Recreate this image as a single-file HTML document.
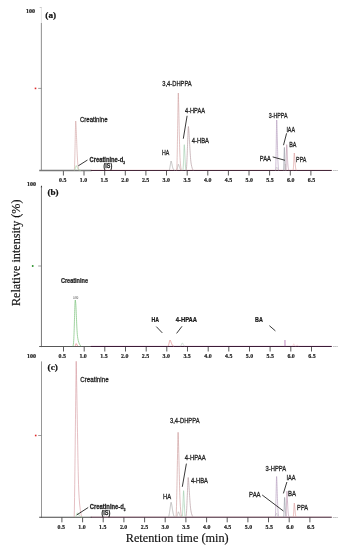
<!DOCTYPE html>
<html><head><meta charset="utf-8"><title>Chromatograms</title>
<style>
html,body{margin:0;padding:0;background:#fff}
svg{display:block;filter:blur(0.3px)}
text{fill:#222}
.tk{font:bold 6.7px "Liberation Serif",serif;text-anchor:middle;fill:#222;stroke:#222;stroke-width:0.2px}
.tm{font:2.4px "Liberation Sans",sans-serif;fill:#777}
.pl{font:bold 8.2px "Liberation Serif",serif;fill:#111;stroke:#111;stroke-width:0.2px}
.lb{font:7.7px "Liberation Sans",sans-serif;fill:#222;stroke:#222;stroke-width:0.3px}
.lbb{font:bold 7.8px "Liberation Sans",sans-serif;fill:#1c1c1c;stroke:#1c1c1c;stroke-width:0.28px}
.lbs{font:bold 6.6px "Liberation Sans",sans-serif;fill:#1c1c1c;stroke:#1c1c1c;stroke-width:0.25px}
.bb{font:bold 6.3px "Liberation Sans",sans-serif;fill:#1a1a1a;stroke:#1a1a1a;stroke-width:0.22px}
.ax{font:13.4px "Liberation Serif",serif;fill:#111;stroke:#111;stroke-width:0.18px}
</style></head><body>
<svg width="350" height="550" viewBox="0 0 350 550">
<rect width="350" height="550" fill="#fff"/>
<line x1="41.4" y1="23" x2="41.4" y2="171.1" stroke="#989898" stroke-width="1.1"/>
<line x1="63.4" y1="170.5" x2="63.4" y2="175.5" stroke="#484848" stroke-width="0.9"/>
<line x1="84.0" y1="170.5" x2="84.0" y2="175.5" stroke="#484848" stroke-width="0.9"/>
<line x1="104.7" y1="170.5" x2="104.7" y2="175.5" stroke="#484848" stroke-width="0.9"/>
<line x1="125.3" y1="170.5" x2="125.3" y2="175.5" stroke="#484848" stroke-width="0.9"/>
<line x1="145.9" y1="170.5" x2="145.9" y2="175.5" stroke="#484848" stroke-width="0.9"/>
<line x1="166.5" y1="170.5" x2="166.5" y2="175.5" stroke="#484848" stroke-width="0.9"/>
<line x1="187.2" y1="170.5" x2="187.2" y2="175.5" stroke="#484848" stroke-width="0.9"/>
<line x1="207.8" y1="170.5" x2="207.8" y2="175.5" stroke="#484848" stroke-width="0.9"/>
<line x1="228.4" y1="170.5" x2="228.4" y2="175.5" stroke="#484848" stroke-width="0.9"/>
<line x1="249.0" y1="170.5" x2="249.0" y2="175.5" stroke="#484848" stroke-width="0.9"/>
<line x1="269.6" y1="170.5" x2="269.6" y2="175.5" stroke="#484848" stroke-width="0.9"/>
<line x1="290.3" y1="170.5" x2="290.3" y2="175.5" stroke="#484848" stroke-width="0.9"/>
<line x1="310.9" y1="170.5" x2="310.9" y2="175.5" stroke="#484848" stroke-width="0.9"/>
<line x1="39.2" y1="170.5" x2="91.5" y2="170.5" stroke="#777" stroke-width="1.3"/>
<line x1="90.8" y1="169.75" x2="331.8" y2="169.75" stroke="#e0b0b8" stroke-width="0.3"/>
<line x1="90.8" y1="170.5" x2="331.8" y2="170.5" stroke="#46283a" stroke-width="1.05"/>
<text transform="translate(62.7 182.3) scale(0.88 1)" class="tk">0.5</text>
<text transform="translate(83.4 182.3) scale(0.88 1)" class="tk">1.0</text>
<text transform="translate(104.2 182.3) scale(0.88 1)" class="tk">1.5</text>
<text transform="translate(124.9 182.3) scale(0.88 1)" class="tk">2.0</text>
<text transform="translate(145.6 182.3) scale(0.88 1)" class="tk">2.5</text>
<text transform="translate(166.3 182.3) scale(0.88 1)" class="tk">3.0</text>
<text transform="translate(187.1 182.3) scale(0.88 1)" class="tk">3.5</text>
<text transform="translate(207.8 182.3) scale(0.88 1)" class="tk">4.0</text>
<text transform="translate(228.5 182.3) scale(0.88 1)" class="tk">4.5</text>
<text transform="translate(249.2 182.3) scale(0.88 1)" class="tk">5.0</text>
<text transform="translate(269.9 182.3) scale(0.88 1)" class="tk">5.5</text>
<text transform="translate(290.7 182.3) scale(0.88 1)" class="tk">6.0</text>
<text transform="translate(311.4 182.3) scale(0.88 1)" class="tk">6.5</text>
<text transform="translate(30.4 12.5) scale(0.9 1)" class="tk">100</text>
<rect x="34.7" y="87.6" width="1.6" height="1.6" fill="#e02828"/>
<line x1="38.2" y1="88.4" x2="41.4" y2="88.4" stroke="#777" stroke-width="0.7"/>
<text x="332.8" y="171.4" class="tm">Time</text>
<line x1="41.4" y1="7" x2="41.4" y2="23" stroke="#cfcfcf" stroke-width="0.6"/>
<text x="39.6" y="7.8" class="tm">%</text>
<text x="45.3" y="18.2" class="pl" textLength="10.8" lengthAdjust="spacingAndGlyphs">(a)</text>
<path d="M74.30 170.30 L74.47 168.25 L74.56 166.19 L74.63 164.14 L74.70 162.08 L74.75 160.03 L74.81 157.98 L74.86 155.92 L74.90 153.87 L74.95 151.81 L74.99 149.76 L75.04 147.70 L75.08 145.65 L75.13 143.60 L75.17 141.54 L75.21 139.49 L75.25 137.43 L75.30 135.38 L75.34 133.32 L75.39 131.27 L75.43 129.22 L75.48 127.16 L75.53 125.11 L75.59 123.05 L75.70 121.00 L75.90 123.05 L76.01 125.11 L76.11 127.16 L76.20 129.22 L76.28 131.27 L76.36 133.32 L76.45 135.38 L76.53 137.43 L76.61 139.49 L76.69 141.54 L76.77 143.60 L76.85 145.65 L76.93 147.70 L77.01 149.76 L77.10 151.81 L77.19 153.87 L77.29 155.92 L77.40 157.98 L77.52 160.03 L77.66 162.08 L77.84 164.14 L78.07 166.19 L78.38 168.25 L78.90 170.30" fill="none" stroke="#d8b0b0" stroke-width="0.75" stroke-linejoin="round"/>
<path d="M74.40 170.30 L74.62 170.10 L74.74 169.91 L74.83 169.71 L74.91 169.52 L74.98 169.32 L75.05 169.12 L75.11 168.93 L75.18 168.73 L75.24 168.54 L75.29 168.34 L75.35 168.15 L75.41 167.95 L75.46 167.75 L75.52 167.56 L75.57 167.36 L75.63 167.17 L75.68 166.97 L75.74 166.78 L75.80 166.58 L75.86 166.38 L75.92 166.19 L75.99 165.99 L76.06 165.80 L76.20 165.60 L76.43 165.80 L76.56 165.99 L76.67 166.19 L76.77 166.38 L76.87 166.58 L76.97 166.78 L77.06 166.97 L77.15 167.17 L77.25 167.36 L77.34 167.56 L77.43 167.75 L77.52 167.95 L77.62 168.15 L77.72 168.34 L77.82 168.54 L77.93 168.73 L78.06 168.93 L78.20 169.12 L78.37 169.32 L78.59 169.52 L78.88 169.71 L79.27 169.91 L79.82 170.10 L80.70 170.30" fill="none" stroke="#a4d4a4" stroke-width="0.7" stroke-linejoin="round"/>
<path d="M169.10 170.30 L169.34 169.91 L169.47 169.53 L169.58 169.14 L169.67 168.75 L169.75 168.36 L169.82 167.98 L169.89 167.59 L169.96 167.20 L170.03 166.81 L170.09 166.43 L170.16 166.04 L170.22 165.65 L170.28 165.26 L170.34 164.88 L170.40 164.49 L170.46 164.10 L170.53 163.71 L170.59 163.32 L170.65 162.94 L170.72 162.55 L170.79 162.16 L170.86 161.78 L170.95 161.39 L171.10 161.00 L171.30 161.39 L171.41 161.78 L171.51 162.16 L171.60 162.55 L171.68 162.94 L171.76 163.32 L171.85 163.71 L171.93 164.10 L172.01 164.49 L172.09 164.88 L172.17 165.26 L172.25 165.65 L172.33 166.04 L172.41 166.43 L172.50 166.81 L172.59 167.20 L172.69 167.59 L172.81 167.98 L172.94 168.36 L173.09 168.75 L173.29 169.14 L173.55 169.53 L173.91 169.91 L174.50 170.30" fill="none" stroke="#a8a6a6" stroke-width="0.7" stroke-linejoin="round"/>
<path d="M176.60 170.30 L176.82 170.05 L176.94 169.79 L177.03 169.54 L177.11 169.28 L177.18 169.03 L177.25 168.78 L177.31 168.52 L177.38 168.27 L177.44 168.01 L177.49 167.76 L177.55 167.50 L177.61 167.25 L177.66 167.00 L177.72 166.74 L177.77 166.49 L177.83 166.23 L177.88 165.98 L177.94 165.72 L178.00 165.47 L178.06 165.22 L178.12 164.96 L178.19 164.71 L178.26 164.45 L178.40 164.20 L178.60 164.45 L178.71 164.71 L178.81 164.96 L178.90 165.22 L178.98 165.47 L179.06 165.72 L179.15 165.98 L179.23 166.23 L179.31 166.49 L179.39 166.74 L179.47 167.00 L179.55 167.25 L179.63 167.50 L179.71 167.76 L179.79 168.01 L179.88 168.27 L179.97 168.52 L180.06 168.78 L180.16 169.03 L180.26 169.28 L180.38 169.54 L180.52 169.79 L180.69 170.05 L181.00 170.30" fill="none" stroke="#a8a0a0" stroke-width="0.6" stroke-linejoin="round"/>
<path d="M176.70 170.30 L176.89 167.08 L177.00 163.86 L177.08 160.64 L177.15 157.42 L177.22 154.20 L177.28 150.98 L177.33 147.75 L177.39 144.53 L177.44 141.31 L177.49 138.09 L177.54 134.87 L177.59 131.65 L177.64 128.43 L177.69 125.21 L177.74 121.99 L177.79 118.77 L177.84 115.55 L177.89 112.33 L177.94 109.10 L178.00 105.88 L178.05 102.66 L178.11 99.44 L178.18 96.22 L178.30 93.00 L178.47 96.22 L178.56 99.44 L178.64 102.66 L178.72 105.88 L178.79 109.10 L178.86 112.33 L178.93 115.55 L179.00 118.77 L179.07 121.99 L179.13 125.21 L179.20 128.43 L179.27 131.65 L179.34 134.87 L179.41 138.09 L179.49 141.31 L179.57 144.53 L179.65 147.75 L179.75 150.98 L179.87 154.20 L180.01 157.42 L180.19 160.64 L180.42 163.86 L180.76 167.08 L181.30 170.30" fill="none" stroke="#cc9a9a" stroke-width="0.6" stroke-linejoin="round"/>
<path d="M182.90 170.30 L183.07 169.23 L183.16 168.17 L183.23 167.10 L183.30 166.03 L183.35 164.97 L183.41 163.90 L183.46 162.83 L183.50 161.77 L183.55 160.70 L183.59 159.63 L183.64 158.57 L183.68 157.50 L183.73 156.43 L183.77 155.37 L183.81 154.30 L183.85 153.23 L183.90 152.17 L183.94 151.10 L183.99 150.03 L184.03 148.97 L184.08 147.90 L184.13 146.83 L184.19 145.77 L184.30 144.70 L184.42 145.77 L184.49 146.83 L184.55 147.90 L184.60 148.97 L184.66 150.03 L184.71 151.10 L184.76 152.17 L184.81 153.23 L184.86 154.30 L184.91 155.37 L184.96 156.43 L185.01 157.50 L185.06 158.57 L185.11 159.63 L185.16 160.70 L185.21 161.77 L185.27 162.83 L185.32 163.90 L185.38 164.97 L185.45 166.03 L185.52 167.10 L185.60 168.17 L185.71 169.23 L185.90 170.30" fill="none" stroke="#a4ceb0" stroke-width="0.7" stroke-linejoin="round"/>
<path d="M186.20 170.30 L186.46 168.48 L186.61 166.65 L186.72 164.83 L186.82 163.00 L186.91 161.18 L186.99 159.35 L187.07 157.53 L187.15 155.70 L187.22 153.88 L187.29 152.05 L187.36 150.23 L187.43 148.40 L187.50 146.58 L187.57 144.75 L187.63 142.93 L187.70 141.10 L187.77 139.28 L187.84 137.45 L187.91 135.62 L187.98 133.80 L188.06 131.97 L188.14 130.15 L188.23 128.32 L188.40 126.50 L188.66 128.32 L188.80 130.15 L188.93 131.97 L189.05 133.80 L189.16 135.62 L189.27 137.45 L189.38 139.28 L189.48 141.10 L189.59 142.93 L189.69 144.75 L189.79 146.57 L189.90 148.40 L190.01 150.22 L190.12 152.05 L190.24 153.88 L190.36 155.70 L190.50 157.53 L190.65 159.35 L190.84 161.18 L191.06 163.00 L191.36 164.83 L191.75 166.65 L192.31 168.48 L193.20 170.30" fill="none" stroke="#b89ea4" stroke-width="0.7" stroke-linejoin="round"/>
<path d="M275.40 170.30 L275.57 170.16 L275.66 170.03 L275.73 169.89 L275.80 169.75 L275.85 169.61 L275.91 169.48 L275.96 169.34 L276.00 169.20 L276.05 169.06 L276.09 168.93 L276.14 168.79 L276.18 168.65 L276.23 168.51 L276.27 168.38 L276.31 168.24 L276.35 168.10 L276.40 167.96 L276.44 167.82 L276.49 167.69 L276.53 167.55 L276.58 167.41 L276.63 167.28 L276.69 167.14 L276.80 167.00 L276.93 167.14 L277.00 167.28 L277.07 167.41 L277.12 167.55 L277.18 167.69 L277.23 167.82 L277.29 167.96 L277.34 168.10 L277.39 168.24 L277.44 168.38 L277.50 168.51 L277.55 168.65 L277.60 168.79 L277.66 168.93 L277.71 169.06 L277.77 169.20 L277.83 169.34 L277.89 169.48 L277.95 169.61 L278.02 169.75 L278.09 169.89 L278.18 170.03 L278.30 170.16 L278.50 170.30" fill="none" stroke="#b0b0b0" stroke-width="0.5" stroke-linejoin="round"/>
<path d="M275.60 170.30 L275.73 168.20 L275.81 166.11 L275.86 164.01 L275.91 161.92 L275.96 159.82 L276.00 157.73 L276.04 155.63 L276.07 153.53 L276.11 151.44 L276.15 149.34 L276.18 147.25 L276.21 145.15 L276.25 143.05 L276.28 140.96 L276.32 138.86 L276.35 136.77 L276.38 134.67 L276.42 132.57 L276.45 130.48 L276.49 128.38 L276.53 126.29 L276.57 124.19 L276.62 122.10 L276.70 120.00 L276.83 122.10 L276.90 124.19 L276.97 126.29 L277.02 128.38 L277.08 130.48 L277.13 132.57 L277.19 134.67 L277.24 136.77 L277.29 138.86 L277.34 140.96 L277.40 143.05 L277.45 145.15 L277.50 147.25 L277.56 149.34 L277.61 151.44 L277.67 153.53 L277.74 155.63 L277.80 157.73 L277.88 159.82 L277.97 161.92 L278.07 164.01 L278.21 166.11 L278.39 168.20 L278.70 170.30" fill="none" stroke="#b8a0c0" stroke-width="0.7" stroke-linejoin="round"/>
<path d="M283.50 170.30 L283.61 169.35 L283.67 168.40 L283.71 167.45 L283.75 166.50 L283.79 165.55 L283.82 164.60 L283.86 163.65 L283.89 162.70 L283.92 161.75 L283.95 160.80 L283.98 159.85 L284.00 158.90 L284.03 157.95 L284.06 157.00 L284.09 156.05 L284.11 155.10 L284.14 154.15 L284.17 153.20 L284.20 152.25 L284.23 151.30 L284.26 150.35 L284.29 149.40 L284.33 148.45 L284.40 147.50 L284.48 148.45 L284.53 149.40 L284.57 150.35 L284.61 151.30 L284.65 152.25 L284.68 153.20 L284.72 154.15 L284.75 155.10 L284.78 156.05 L284.82 157.00 L284.85 157.95 L284.89 158.90 L284.92 159.85 L284.95 160.80 L284.99 161.75 L285.03 162.70 L285.06 163.65 L285.10 164.60 L285.14 165.55 L285.19 166.50 L285.24 167.45 L285.29 168.40 L285.37 169.35 L285.50 170.30" fill="none" stroke="#9496a2" stroke-width="0.7" stroke-linejoin="round"/>
<path d="M284.40 170.30 L284.50 170.04 L284.55 169.78 L284.59 169.51 L284.63 169.25 L284.66 168.99 L284.69 168.73 L284.72 168.46 L284.74 168.20 L284.77 167.94 L284.80 167.68 L284.82 167.41 L284.85 167.15 L284.87 166.89 L284.90 166.62 L284.92 166.36 L284.95 166.10 L284.97 165.84 L285.00 165.57 L285.02 165.31 L285.05 165.05 L285.08 164.79 L285.10 164.53 L285.14 164.26 L285.20 164.00 L285.28 164.26 L285.32 164.53 L285.36 164.79 L285.39 165.05 L285.42 165.31 L285.46 165.57 L285.49 165.84 L285.52 166.10 L285.55 166.36 L285.58 166.62 L285.61 166.89 L285.64 167.15 L285.67 167.41 L285.70 167.68 L285.74 167.94 L285.77 168.20 L285.80 168.46 L285.84 168.73 L285.88 168.99 L285.92 169.25 L285.96 169.51 L286.01 169.78 L286.08 170.04 L286.20 170.30" fill="none" stroke="#b0b0b0" stroke-width="0.5" stroke-linejoin="round"/>
<path d="M285.90 170.30 L286.00 169.23 L286.05 168.17 L286.09 167.10 L286.13 166.03 L286.16 164.97 L286.19 163.90 L286.22 162.83 L286.24 161.77 L286.27 160.70 L286.30 159.63 L286.32 158.57 L286.35 157.50 L286.37 156.43 L286.40 155.37 L286.42 154.30 L286.45 153.23 L286.47 152.17 L286.50 151.10 L286.52 150.03 L286.55 148.97 L286.58 147.90 L286.60 146.83 L286.64 145.77 L286.70 144.70 L286.83 145.77 L286.90 146.83 L286.97 147.90 L287.02 148.97 L287.08 150.03 L287.13 151.10 L287.19 152.17 L287.24 153.23 L287.29 154.30 L287.34 155.37 L287.40 156.43 L287.45 157.50 L287.50 158.57 L287.56 159.63 L287.62 160.70 L287.67 161.77 L287.74 162.83 L287.81 163.90 L287.89 164.97 L287.98 166.03 L288.10 167.10 L288.25 168.17 L288.46 169.23 L288.80 170.30" fill="none" stroke="#c09cb0" stroke-width="0.7" stroke-linejoin="round"/>
<path d="M293.10 170.30 L293.24 169.58 L293.32 168.86 L293.39 168.14 L293.44 167.42 L293.49 166.70 L293.53 165.98 L293.58 165.25 L293.62 164.53 L293.66 163.81 L293.70 163.09 L293.73 162.37 L293.77 161.65 L293.81 160.93 L293.84 160.21 L293.88 159.49 L293.92 158.77 L293.96 158.05 L293.99 157.32 L294.03 156.60 L294.07 155.88 L294.11 155.16 L294.16 154.44 L294.21 153.72 L294.30 153.00 L294.43 153.72 L294.50 154.44 L294.57 155.16 L294.62 155.88 L294.68 156.60 L294.73 157.32 L294.79 158.05 L294.84 158.77 L294.89 159.49 L294.94 160.21 L295.00 160.93 L295.05 161.65 L295.10 162.37 L295.16 163.09 L295.21 163.81 L295.27 164.53 L295.33 165.25 L295.40 165.98 L295.47 166.70 L295.55 167.42 L295.65 168.14 L295.77 168.86 L295.93 169.58 L296.20 170.30" fill="none" stroke="#dc9c9c" stroke-width="0.7" stroke-linejoin="round"/>
<text x="79.9" y="121.8" class="lb" text-anchor="start" textLength="27.7" lengthAdjust="spacingAndGlyphs">Creatinine</text>
<text x="89.6" y="162.2" class="lbb" text-anchor="start" textLength="35.4" lengthAdjust="spacingAndGlyphs">Creatinine-d<tspan dy="1.5" font-size="4.2">3</tspan></text>
<text x="103.6" y="168.0" class="lbs" text-anchor="start" textLength="8.6" lengthAdjust="spacingAndGlyphs">(IS)</text>
<line x1="78.3" y1="165.8" x2="87.5" y2="160" stroke="#222" stroke-width="0.9"/>
<text x="162.3" y="86.0" class="lb" text-anchor="start" textLength="29.4" lengthAdjust="spacingAndGlyphs">3,4-DHPPA</text>
<text x="162" y="154.6" class="lb" text-anchor="start" textLength="7.3" lengthAdjust="spacingAndGlyphs">HA</text>
<text x="185" y="113.3" class="lb" text-anchor="start" textLength="20.0" lengthAdjust="spacingAndGlyphs">4-HPAA</text>
<line x1="187.1" y1="115.8" x2="183.3" y2="138.7" stroke="#222" stroke-width="0.9"/>
<text x="191.8" y="143.1" class="lb" text-anchor="start" textLength="17.2" lengthAdjust="spacingAndGlyphs">4-HBA</text>
<text x="268.7" y="117.5" class="lb" text-anchor="start" textLength="18.9" lengthAdjust="spacingAndGlyphs">3-HPPA</text>
<text x="286.4" y="131.8" class="lb" text-anchor="start" textLength="8.6" lengthAdjust="spacingAndGlyphs">IAA</text>
<line x1="286.6" y1="133.3" x2="283.5" y2="145.2" stroke="#222" stroke-width="0.9"/>
<text x="289.2" y="146.9" class="lb" text-anchor="start" textLength="7.2" lengthAdjust="spacingAndGlyphs">BA</text>
<text x="259.8" y="160.7" class="lb" text-anchor="start" textLength="11.0" lengthAdjust="spacingAndGlyphs">PAA</text>
<line x1="272.7" y1="156.9" x2="285" y2="160.3" stroke="#222" stroke-width="0.9"/>
<text x="296.1" y="162.2" class="lb" text-anchor="start" textLength="10.3" lengthAdjust="spacingAndGlyphs">PPA</text>
<line x1="41.45" y1="186.2" x2="41.45" y2="347.1" stroke="#6a6a6a" stroke-width="0.9"/>
<line x1="63.5" y1="346.5" x2="63.5" y2="351.5" stroke="#484848" stroke-width="0.9"/>
<line x1="84.2" y1="346.5" x2="84.2" y2="351.5" stroke="#484848" stroke-width="0.9"/>
<line x1="104.8" y1="346.5" x2="104.8" y2="351.5" stroke="#484848" stroke-width="0.9"/>
<line x1="125.5" y1="346.5" x2="125.5" y2="351.5" stroke="#484848" stroke-width="0.9"/>
<line x1="146.2" y1="346.5" x2="146.2" y2="351.5" stroke="#484848" stroke-width="0.9"/>
<line x1="166.8" y1="346.5" x2="166.8" y2="351.5" stroke="#484848" stroke-width="0.9"/>
<line x1="187.5" y1="346.5" x2="187.5" y2="351.5" stroke="#484848" stroke-width="0.9"/>
<line x1="208.2" y1="346.5" x2="208.2" y2="351.5" stroke="#484848" stroke-width="0.9"/>
<line x1="228.8" y1="346.5" x2="228.8" y2="351.5" stroke="#484848" stroke-width="0.9"/>
<line x1="249.5" y1="346.5" x2="249.5" y2="351.5" stroke="#484848" stroke-width="0.9"/>
<line x1="270.1" y1="346.5" x2="270.1" y2="351.5" stroke="#484848" stroke-width="0.9"/>
<line x1="290.8" y1="346.5" x2="290.8" y2="351.5" stroke="#484848" stroke-width="0.9"/>
<line x1="311.5" y1="346.5" x2="311.5" y2="351.5" stroke="#484848" stroke-width="0.9"/>
<line x1="39.2" y1="346.5" x2="91.5" y2="346.5" stroke="#585858" stroke-width="1.1"/>
<line x1="90.8" y1="345.75" x2="331.8" y2="345.75" stroke="#d8b0cc" stroke-width="0.3"/>
<line x1="90.8" y1="346.5" x2="331.8" y2="346.5" stroke="#3c1c38" stroke-width="1.05"/>
<text transform="translate(62.3 358.2) scale(0.88 1)" class="tk">0.5</text>
<text transform="translate(83.1 358.2) scale(0.88 1)" class="tk">1.0</text>
<text transform="translate(103.9 358.2) scale(0.88 1)" class="tk">1.5</text>
<text transform="translate(124.7 358.2) scale(0.88 1)" class="tk">2.0</text>
<text transform="translate(145.5 358.2) scale(0.88 1)" class="tk">2.5</text>
<text transform="translate(166.3 358.2) scale(0.88 1)" class="tk">3.0</text>
<text transform="translate(187.1 358.2) scale(0.88 1)" class="tk">3.5</text>
<text transform="translate(207.9 358.2) scale(0.88 1)" class="tk">4.0</text>
<text transform="translate(228.7 358.2) scale(0.88 1)" class="tk">4.5</text>
<text transform="translate(249.5 358.2) scale(0.88 1)" class="tk">5.0</text>
<text transform="translate(270.3 358.2) scale(0.88 1)" class="tk">5.5</text>
<text transform="translate(291.1 358.2) scale(0.88 1)" class="tk">6.0</text>
<text transform="translate(311.9 358.2) scale(0.88 1)" class="tk">6.5</text>
<text transform="translate(31.4 186.0) scale(0.9 1)" class="tk">100</text>
<rect x="31.900000000000002" y="265.2" width="1.6" height="1.6" fill="#128412"/>
<line x1="38.2" y1="266.0" x2="41.4" y2="266.0" stroke="#777" stroke-width="0.7"/>
<text x="332.8" y="347.4" class="tm">Time</text>
<path d="M40.7 187.2 L41.45 185.2 L42.2 187.2 Z" fill="#333"/>
<text x="47.5" y="194.7" class="pl" textLength="11.1" lengthAdjust="spacingAndGlyphs">(b)</text>
<path d="M73.00 346.20 L73.40 344.27 L73.59 342.35 L73.72 340.43 L73.83 338.50 L73.92 336.57 L74.00 334.65 L74.07 332.72 L74.14 330.80 L74.20 328.88 L74.26 326.95 L74.32 325.02 L74.38 323.10 L74.43 321.18 L74.48 319.25 L74.54 317.32 L74.59 315.40 L74.65 313.48 L74.70 311.55 L74.76 309.62 L74.83 307.70 L74.89 305.77 L74.97 303.85 L75.07 301.93 L75.30 300.00 L75.64 301.93 L75.79 303.85 L75.90 305.77 L76.00 307.70 L76.09 309.62 L76.18 311.55 L76.26 313.48 L76.35 315.40 L76.43 317.32 L76.51 319.25 L76.59 321.18 L76.67 323.10 L76.75 325.02 L76.84 326.95 L76.94 328.88 L77.05 330.80 L77.18 332.73 L77.34 334.65 L77.55 336.57 L77.83 338.50 L78.21 340.43 L78.75 342.35 L79.55 344.27 L80.90 346.20" fill="none" stroke="#88c888" stroke-width="0.8" stroke-linejoin="round"/>
<path d="M74.90 346.20 L75.04 346.09 L75.12 345.98 L75.19 345.88 L75.24 345.77 L75.29 345.66 L75.33 345.55 L75.38 345.44 L75.42 345.33 L75.46 345.23 L75.50 345.12 L75.53 345.01 L75.57 344.90 L75.61 344.79 L75.64 344.68 L75.68 344.57 L75.72 344.47 L75.76 344.36 L75.79 344.25 L75.83 344.14 L75.87 344.03 L75.91 343.93 L75.96 343.82 L76.01 343.71 L76.10 343.60 L76.25 343.71 L76.34 343.82 L76.41 343.93 L76.48 344.03 L76.55 344.14 L76.61 344.25 L76.67 344.36 L76.74 344.47 L76.80 344.57 L76.86 344.68 L76.92 344.79 L76.98 344.90 L77.04 345.01 L77.11 345.12 L77.17 345.23 L77.24 345.33 L77.31 345.44 L77.38 345.55 L77.45 345.66 L77.53 345.77 L77.62 345.88 L77.73 345.98 L77.86 346.09 L78.10 346.20" fill="none" stroke="#e06868" stroke-width="0.6" stroke-linejoin="round"/>
<path d="M167.90 346.20 L168.15 345.94 L168.29 345.68 L168.40 345.43 L168.49 345.17 L168.58 344.91 L168.66 344.65 L168.73 344.39 L168.80 344.13 L168.87 343.88 L168.94 343.62 L169.01 343.36 L169.07 343.10 L169.14 342.84 L169.20 342.58 L169.27 342.32 L169.33 342.07 L169.40 341.81 L169.46 341.55 L169.53 341.29 L169.60 341.03 L169.67 340.77 L169.75 340.52 L169.84 340.26 L170.00 340.00 L170.25 340.26 L170.38 340.52 L170.50 340.77 L170.61 341.03 L170.72 341.29 L170.82 341.55 L170.92 341.81 L171.02 342.07 L171.12 342.32 L171.21 342.58 L171.31 342.84 L171.41 343.10 L171.51 343.36 L171.61 343.62 L171.72 343.88 L171.83 344.13 L171.95 344.39 L172.07 344.65 L172.21 344.91 L172.38 345.17 L172.57 345.43 L172.81 345.68 L173.14 345.94 L173.70 346.20" fill="none" stroke="#dc8484" stroke-width="0.7" stroke-linejoin="round"/>
<path d="M180.40 346.20 L180.63 346.06 L180.75 345.93 L180.85 345.79 L180.94 345.65 L181.01 345.51 L181.09 345.38 L181.15 345.24 L181.22 345.10 L181.28 344.96 L181.34 344.82 L181.40 344.69 L181.46 344.55 L181.52 344.41 L181.58 344.27 L181.64 344.14 L181.70 344.00 L181.75 343.86 L181.81 343.72 L181.88 343.59 L181.94 343.45 L182.00 343.31 L182.07 343.17 L182.15 343.04 L182.30 342.90 L182.48 343.04 L182.59 343.17 L182.67 343.31 L182.76 343.45 L182.84 343.59 L182.91 343.72 L182.99 343.86 L183.06 344.00 L183.14 344.14 L183.21 344.27 L183.28 344.41 L183.36 344.55 L183.43 344.69 L183.51 344.82 L183.59 344.96 L183.67 345.10 L183.75 345.24 L183.83 345.38 L183.92 345.51 L184.02 345.65 L184.13 345.79 L184.25 345.93 L184.41 346.06 L184.70 346.20" fill="none" stroke="#b0ccb8" stroke-width="0.6" stroke-linejoin="round"/>
<path d="M284.40 346.20 L284.46 345.94 L284.49 345.68 L284.52 345.43 L284.54 345.17 L284.56 344.91 L284.58 344.65 L284.60 344.39 L284.62 344.13 L284.63 343.88 L284.65 343.62 L284.66 343.36 L284.68 343.10 L284.69 342.84 L284.71 342.58 L284.73 342.32 L284.74 342.07 L284.76 341.81 L284.77 341.55 L284.79 341.29 L284.80 341.03 L284.82 340.77 L284.84 340.52 L284.86 340.26 L284.90 340.00 L284.96 340.26 L285.00 340.52 L285.02 340.77 L285.05 341.03 L285.08 341.29 L285.10 341.55 L285.13 341.81 L285.15 342.07 L285.18 342.32 L285.20 342.58 L285.23 342.84 L285.25 343.10 L285.28 343.36 L285.30 343.62 L285.33 343.88 L285.36 344.13 L285.38 344.39 L285.41 344.65 L285.44 344.91 L285.47 345.17 L285.51 345.43 L285.55 345.68 L285.60 345.94 L285.70 346.20" fill="none" stroke="#b87cb8" stroke-width="0.6" stroke-linejoin="round"/>
<path d="M292.50 346.20 L292.64 346.10 L292.72 346.00 L292.79 345.90 L292.84 345.80 L292.89 345.70 L292.93 345.60 L292.98 345.50 L293.02 345.40 L293.06 345.30 L293.10 345.20 L293.13 345.10 L293.17 345.00 L293.21 344.90 L293.24 344.80 L293.28 344.70 L293.32 344.60 L293.36 344.50 L293.39 344.40 L293.43 344.30 L293.47 344.20 L293.51 344.10 L293.56 344.00 L293.61 343.90 L293.70 343.80 L293.84 343.90 L293.91 344.00 L293.98 344.10 L294.04 344.20 L294.10 344.30 L294.16 344.40 L294.22 344.50 L294.27 344.60 L294.33 344.70 L294.38 344.80 L294.44 344.90 L294.49 345.00 L294.55 345.10 L294.61 345.20 L294.66 345.30 L294.72 345.40 L294.79 345.50 L294.85 345.60 L294.92 345.70 L294.99 345.80 L295.07 345.90 L295.16 346.00 L295.28 346.10 L295.50 346.20" fill="none" stroke="#e4acb4" stroke-width="0.5" stroke-linejoin="round"/>
<path d="M296.20 346.20 L296.32 346.14 L296.39 346.08 L296.44 346.02 L296.48 345.97 L296.52 345.91 L296.56 345.85 L296.60 345.79 L296.63 345.73 L296.66 345.68 L296.70 345.62 L296.73 345.56 L296.76 345.50 L296.79 345.44 L296.82 345.38 L296.85 345.32 L296.88 345.27 L296.91 345.21 L296.94 345.15 L296.98 345.09 L297.01 345.03 L297.04 344.98 L297.08 344.92 L297.12 344.86 L297.20 344.80 L297.29 344.86 L297.34 344.92 L297.39 344.98 L297.43 345.03 L297.47 345.09 L297.51 345.15 L297.54 345.21 L297.58 345.27 L297.62 345.32 L297.66 345.38 L297.69 345.44 L297.73 345.50 L297.77 345.56 L297.80 345.62 L297.84 345.68 L297.88 345.73 L297.92 345.79 L297.97 345.85 L298.01 345.91 L298.06 345.97 L298.11 346.02 L298.18 346.08 L298.26 346.14 L298.40 346.20" fill="none" stroke="#e4acb4" stroke-width="0.4" stroke-linejoin="round"/>
<text x="75.7" y="299" text-anchor="middle" style="font:2.7px 'Liberation Sans',sans-serif;fill:#444">0.80</text>
<text x="60.9" y="283.3" class="bb" text-anchor="start" textLength="27.1" lengthAdjust="spacingAndGlyphs">Creatinine</text>
<text x="151.4" y="322.3" class="bb" text-anchor="start" textLength="7.5" lengthAdjust="spacingAndGlyphs">HA</text>
<line x1="156.3" y1="326.6" x2="162.3" y2="332.9" stroke="#222" stroke-width="0.9"/>
<text x="175.7" y="322.3" class="bb" text-anchor="start" textLength="21.4" lengthAdjust="spacingAndGlyphs">4-HPAA</text>
<line x1="182" y1="326.3" x2="176.6" y2="333.4" stroke="#222" stroke-width="0.9"/>
<text x="255.1" y="322" class="bb" text-anchor="start" textLength="7.8" lengthAdjust="spacingAndGlyphs">BA</text>
<line x1="269.4" y1="325.7" x2="275.4" y2="330.9" stroke="#222" stroke-width="0.9"/>
<line x1="41.5" y1="361.4" x2="41.5" y2="517.9" stroke="#969696" stroke-width="1.0"/>
<line x1="61.9" y1="517.3" x2="61.9" y2="522.3" stroke="#484848" stroke-width="0.9"/>
<line x1="82.6" y1="517.3" x2="82.6" y2="522.3" stroke="#484848" stroke-width="0.9"/>
<line x1="103.2" y1="517.3" x2="103.2" y2="522.3" stroke="#484848" stroke-width="0.9"/>
<line x1="123.9" y1="517.3" x2="123.9" y2="522.3" stroke="#484848" stroke-width="0.9"/>
<line x1="144.6" y1="517.3" x2="144.6" y2="522.3" stroke="#484848" stroke-width="0.9"/>
<line x1="165.2" y1="517.3" x2="165.2" y2="522.3" stroke="#484848" stroke-width="0.9"/>
<line x1="185.9" y1="517.3" x2="185.9" y2="522.3" stroke="#484848" stroke-width="0.9"/>
<line x1="206.6" y1="517.3" x2="206.6" y2="522.3" stroke="#484848" stroke-width="0.9"/>
<line x1="227.2" y1="517.3" x2="227.2" y2="522.3" stroke="#484848" stroke-width="0.9"/>
<line x1="247.9" y1="517.3" x2="247.9" y2="522.3" stroke="#484848" stroke-width="0.9"/>
<line x1="268.5" y1="517.3" x2="268.5" y2="522.3" stroke="#484848" stroke-width="0.9"/>
<line x1="289.2" y1="517.3" x2="289.2" y2="522.3" stroke="#484848" stroke-width="0.9"/>
<line x1="309.9" y1="517.3" x2="309.9" y2="522.3" stroke="#484848" stroke-width="0.9"/>
<line x1="39.2" y1="517.3" x2="91.5" y2="517.3" stroke="#464646" stroke-width="1.1"/>
<line x1="90.8" y1="516.55" x2="331.8" y2="516.55" stroke="#e0b0b8" stroke-width="0.3"/>
<line x1="90.8" y1="517.3" x2="331.8" y2="517.3" stroke="#46283a" stroke-width="1.05"/>
<text transform="translate(61.2 529.2) scale(0.88 1)" class="tk">0.5</text>
<text transform="translate(82.0 529.2) scale(0.88 1)" class="tk">1.0</text>
<text transform="translate(102.8 529.2) scale(0.88 1)" class="tk">1.5</text>
<text transform="translate(123.6 529.2) scale(0.88 1)" class="tk">2.0</text>
<text transform="translate(144.4 529.2) scale(0.88 1)" class="tk">2.5</text>
<text transform="translate(165.2 529.2) scale(0.88 1)" class="tk">3.0</text>
<text transform="translate(186.0 529.2) scale(0.88 1)" class="tk">3.5</text>
<text transform="translate(206.8 529.2) scale(0.88 1)" class="tk">4.0</text>
<text transform="translate(227.6 529.2) scale(0.88 1)" class="tk">4.5</text>
<text transform="translate(248.4 529.2) scale(0.88 1)" class="tk">5.0</text>
<text transform="translate(269.2 529.2) scale(0.88 1)" class="tk">5.5</text>
<text transform="translate(290.0 529.2) scale(0.88 1)" class="tk">6.0</text>
<text transform="translate(310.8 529.2) scale(0.88 1)" class="tk">6.5</text>
<text transform="translate(31.4 358.3) scale(0.9 1)" class="tk">100</text>
<rect x="34.900000000000006" y="434.7" width="1.6" height="1.6" fill="#e02828"/>
<line x1="38.2" y1="435.5" x2="41.4" y2="435.5" stroke="#777" stroke-width="0.7"/>
<text x="332.8" y="518.1999999999999" class="tm">Time</text>
<text x="47.6" y="369.8" class="pl" textLength="10.3" lengthAdjust="spacingAndGlyphs">(c)</text>
<path d="M74.20 517.00 L74.36 510.51 L74.47 504.02 L74.56 497.54 L74.65 491.05 L74.73 484.56 L74.81 478.07 L74.89 471.59 L74.96 465.10 L75.04 458.61 L75.11 452.12 L75.19 445.64 L75.26 439.15 L75.33 432.66 L75.40 426.18 L75.48 419.69 L75.55 413.20 L75.62 406.71 L75.69 400.23 L75.77 393.74 L75.84 387.25 L75.92 380.76 L76.00 374.28 L76.08 367.79 L76.20 361.30 L76.38 367.79 L76.50 374.28 L76.62 380.76 L76.74 387.25 L76.85 393.74 L76.96 400.23 L77.07 406.71 L77.18 413.20 L77.29 419.69 L77.39 426.18 L77.50 432.66 L77.61 439.15 L77.72 445.64 L77.83 452.12 L77.95 458.61 L78.07 465.10 L78.21 471.59 L78.36 478.07 L78.55 484.56 L78.79 491.05 L79.14 497.54 L79.64 504.02 L80.40 510.51 L81.60 517.00" fill="none" stroke="#d08c92" stroke-width="0.55" stroke-linejoin="round"/>
<path d="M75.40 517.00 L75.63 516.83 L75.75 516.65 L75.85 516.48 L75.94 516.30 L76.01 516.12 L76.09 515.95 L76.15 515.77 L76.22 515.60 L76.28 515.42 L76.34 515.25 L76.40 515.07 L76.46 514.90 L76.52 514.73 L76.58 514.55 L76.64 514.38 L76.70 514.20 L76.75 514.02 L76.81 513.85 L76.88 513.67 L76.94 513.50 L77.00 513.32 L77.07 513.15 L77.15 512.97 L77.30 512.80 L77.58 512.97 L77.73 513.15 L77.86 513.32 L77.99 513.50 L78.10 513.67 L78.22 513.85 L78.33 514.02 L78.44 514.20 L78.56 514.38 L78.67 514.55 L78.78 514.73 L78.89 514.90 L79.00 515.07 L79.12 515.25 L79.24 515.42 L79.38 515.60 L79.52 515.77 L79.68 515.95 L79.88 516.12 L80.12 516.30 L80.44 516.48 L80.86 516.65 L81.45 516.83 L82.40 517.00" fill="none" stroke="#a4d4a4" stroke-width="0.7" stroke-linejoin="round"/>
<path d="M168.40 517.00 L168.72 516.39 L168.90 515.77 L169.04 515.16 L169.16 514.55 L169.27 513.94 L169.37 513.33 L169.47 512.71 L169.56 512.10 L169.65 511.49 L169.74 510.88 L169.83 510.26 L169.91 509.65 L169.99 509.04 L170.08 508.43 L170.16 507.81 L170.24 507.20 L170.33 506.59 L170.41 505.98 L170.50 505.36 L170.59 504.75 L170.68 504.14 L170.78 503.53 L170.89 502.91 L171.10 502.30 L171.35 502.91 L171.48 503.53 L171.60 504.14 L171.71 504.75 L171.82 505.36 L171.92 505.98 L172.02 506.59 L172.12 507.20 L172.22 507.81 L172.31 508.43 L172.41 509.04 L172.51 509.65 L172.61 510.26 L172.71 510.88 L172.82 511.49 L172.93 512.10 L173.04 512.71 L173.17 513.33 L173.30 513.94 L173.46 514.55 L173.64 515.16 L173.87 515.77 L174.18 516.39 L174.70 517.00" fill="none" stroke="#a8a6a6" stroke-width="0.7" stroke-linejoin="round"/>
<path d="M176.60 517.00 L176.82 516.78 L176.94 516.57 L177.03 516.35 L177.11 516.13 L177.18 515.92 L177.25 515.70 L177.31 515.48 L177.38 515.27 L177.44 515.05 L177.49 514.83 L177.55 514.62 L177.61 514.40 L177.66 514.18 L177.72 513.97 L177.77 513.75 L177.83 513.53 L177.88 513.32 L177.94 513.10 L178.00 512.88 L178.06 512.67 L178.12 512.45 L178.19 512.23 L178.26 512.02 L178.40 511.80 L178.60 512.02 L178.71 512.23 L178.81 512.45 L178.90 512.67 L178.98 512.88 L179.06 513.10 L179.15 513.32 L179.23 513.53 L179.31 513.75 L179.39 513.97 L179.47 514.18 L179.55 514.40 L179.63 514.62 L179.71 514.83 L179.79 515.05 L179.88 515.27 L179.97 515.48 L180.06 515.70 L180.16 515.92 L180.26 516.13 L180.38 516.35 L180.52 516.57 L180.69 516.78 L181.00 517.00" fill="none" stroke="#a8a0a0" stroke-width="0.6" stroke-linejoin="round"/>
<path d="M176.00 517.00 L176.25 513.47 L176.39 509.94 L176.50 506.41 L176.59 502.88 L176.68 499.35 L176.76 495.82 L176.83 492.30 L176.90 488.77 L176.97 485.24 L177.04 481.71 L177.11 478.18 L177.17 474.65 L177.24 471.12 L177.30 467.59 L177.37 464.06 L177.43 460.53 L177.50 457.00 L177.56 453.48 L177.63 449.95 L177.70 446.42 L177.77 442.89 L177.85 439.36 L177.94 435.83 L178.10 432.30 L178.31 435.83 L178.42 439.36 L178.52 442.89 L178.61 446.42 L178.70 449.95 L178.79 453.48 L178.87 457.00 L178.96 460.53 L179.04 464.06 L179.12 467.59 L179.21 471.12 L179.29 474.65 L179.38 478.18 L179.46 481.71 L179.55 485.24 L179.65 488.77 L179.75 492.30 L179.87 495.82 L180.00 499.35 L180.17 502.88 L180.37 506.41 L180.63 509.94 L181.00 513.47 L181.60 517.00" fill="none" stroke="#cc9a9a" stroke-width="0.65" stroke-linejoin="round"/>
<path d="M182.20 517.00 L182.37 515.90 L182.46 514.81 L182.53 513.71 L182.60 512.62 L182.65 511.52 L182.71 510.43 L182.76 509.33 L182.80 508.23 L182.85 507.14 L182.89 506.04 L182.94 504.95 L182.98 503.85 L183.03 502.75 L183.07 501.66 L183.11 500.56 L183.15 499.47 L183.20 498.37 L183.24 497.27 L183.29 496.18 L183.33 495.08 L183.38 493.99 L183.43 492.89 L183.49 491.80 L183.60 490.70 L183.72 491.80 L183.79 492.89 L183.85 493.99 L183.90 495.08 L183.96 496.18 L184.01 497.27 L184.06 498.37 L184.11 499.47 L184.16 500.56 L184.21 501.66 L184.26 502.75 L184.31 503.85 L184.36 504.95 L184.41 506.04 L184.46 507.14 L184.51 508.23 L184.57 509.33 L184.62 510.43 L184.68 511.52 L184.75 512.62 L184.82 513.71 L184.90 514.81 L185.01 515.90 L185.20 517.00" fill="none" stroke="#a4ceb0" stroke-width="0.7" stroke-linejoin="round"/>
<path d="M186.00 517.00 L186.26 515.35 L186.41 513.71 L186.52 512.06 L186.62 510.42 L186.71 508.77 L186.79 507.12 L186.87 505.48 L186.95 503.83 L187.02 502.19 L187.09 500.54 L187.16 498.90 L187.23 497.25 L187.30 495.60 L187.37 493.96 L187.43 492.31 L187.50 490.67 L187.57 489.02 L187.64 487.38 L187.71 485.73 L187.78 484.08 L187.86 482.44 L187.94 480.79 L188.03 479.15 L188.20 477.50 L188.46 479.15 L188.60 480.79 L188.73 482.44 L188.85 484.08 L188.96 485.73 L189.07 487.38 L189.18 489.02 L189.28 490.67 L189.39 492.31 L189.49 493.96 L189.59 495.60 L189.70 497.25 L189.81 498.90 L189.92 500.54 L190.04 502.19 L190.16 503.83 L190.30 505.48 L190.45 507.12 L190.64 508.77 L190.86 510.42 L191.16 512.06 L191.55 513.71 L192.11 515.35 L193.00 517.00" fill="none" stroke="#b89ea4" stroke-width="0.7" stroke-linejoin="round"/>
<path d="M275.20 517.00 L275.37 516.83 L275.46 516.67 L275.53 516.50 L275.60 516.33 L275.65 516.17 L275.71 516.00 L275.76 515.83 L275.80 515.67 L275.85 515.50 L275.89 515.33 L275.94 515.17 L275.98 515.00 L276.03 514.83 L276.07 514.67 L276.11 514.50 L276.15 514.33 L276.20 514.17 L276.24 514.00 L276.29 513.83 L276.33 513.67 L276.38 513.50 L276.43 513.33 L276.49 513.17 L276.60 513.00 L276.73 513.17 L276.80 513.33 L276.87 513.50 L276.92 513.67 L276.98 513.83 L277.03 514.00 L277.09 514.17 L277.14 514.33 L277.19 514.50 L277.24 514.67 L277.30 514.83 L277.35 515.00 L277.40 515.17 L277.46 515.33 L277.51 515.50 L277.57 515.67 L277.63 515.83 L277.69 516.00 L277.75 516.17 L277.82 516.33 L277.89 516.50 L277.98 516.67 L278.10 516.83 L278.30 517.00" fill="none" stroke="#b0b0b0" stroke-width="0.5" stroke-linejoin="round"/>
<path d="M275.30 517.00 L275.46 515.31 L275.54 513.62 L275.61 511.94 L275.67 510.25 L275.72 508.56 L275.77 506.88 L275.82 505.19 L275.86 503.50 L275.90 501.81 L275.95 500.12 L275.99 498.44 L276.03 496.75 L276.07 495.06 L276.11 493.38 L276.15 491.69 L276.19 490.00 L276.23 488.31 L276.27 486.62 L276.31 484.94 L276.35 483.25 L276.40 481.56 L276.45 479.88 L276.50 478.19 L276.60 476.50 L276.74 478.19 L276.81 479.88 L276.88 481.56 L276.94 483.25 L277.00 484.94 L277.06 486.62 L277.12 488.31 L277.17 490.00 L277.23 491.69 L277.28 493.38 L277.34 495.06 L277.39 496.75 L277.45 498.44 L277.51 500.12 L277.57 501.81 L277.63 503.50 L277.70 505.19 L277.77 506.88 L277.85 508.56 L277.94 510.25 L278.05 511.94 L278.19 513.62 L278.38 515.31 L278.70 517.00" fill="none" stroke="#b8a0c0" stroke-width="0.7" stroke-linejoin="round"/>
<path d="M283.70 517.00 L283.81 516.19 L283.87 515.38 L283.91 514.56 L283.95 513.75 L283.99 512.94 L284.02 512.12 L284.06 511.31 L284.09 510.50 L284.12 509.69 L284.15 508.88 L284.18 508.06 L284.20 507.25 L284.23 506.44 L284.26 505.62 L284.29 504.81 L284.31 504.00 L284.34 503.19 L284.37 502.38 L284.40 501.56 L284.43 500.75 L284.46 499.94 L284.49 499.12 L284.53 498.31 L284.60 497.50 L284.71 498.31 L284.77 499.12 L284.82 499.94 L284.87 500.75 L284.91 501.56 L284.96 502.38 L285.00 503.19 L285.05 504.00 L285.09 504.81 L285.13 505.62 L285.17 506.44 L285.22 507.25 L285.26 508.06 L285.31 508.88 L285.35 509.69 L285.40 510.50 L285.44 511.31 L285.49 512.12 L285.55 512.94 L285.60 513.75 L285.67 514.56 L285.74 515.38 L285.83 516.19 L286.00 517.00" fill="none" stroke="#9496a2" stroke-width="0.7" stroke-linejoin="round"/>
<path d="M286.10 517.00 L286.20 515.93 L286.25 514.86 L286.29 513.79 L286.33 512.72 L286.36 511.65 L286.39 510.57 L286.42 509.50 L286.44 508.43 L286.47 507.36 L286.50 506.29 L286.52 505.22 L286.55 504.15 L286.57 503.08 L286.60 502.01 L286.62 500.94 L286.65 499.87 L286.67 498.80 L286.70 497.73 L286.72 496.65 L286.75 495.58 L286.78 494.51 L286.80 493.44 L286.84 492.37 L286.90 491.30 L287.03 492.37 L287.10 493.44 L287.17 494.51 L287.22 495.58 L287.28 496.65 L287.33 497.73 L287.39 498.80 L287.44 499.87 L287.49 500.94 L287.54 502.01 L287.60 503.08 L287.65 504.15 L287.70 505.22 L287.76 506.29 L287.82 507.36 L287.87 508.43 L287.94 509.50 L288.01 510.57 L288.09 511.65 L288.18 512.72 L288.30 513.79 L288.45 514.86 L288.66 515.93 L289.00 517.00" fill="none" stroke="#c09cb4" stroke-width="0.7" stroke-linejoin="round"/>
<path d="M293.20 517.00 L293.33 516.42 L293.41 515.84 L293.46 515.26 L293.51 514.68 L293.56 514.10 L293.60 513.52 L293.64 512.95 L293.67 512.37 L293.71 511.79 L293.75 511.21 L293.78 510.63 L293.81 510.05 L293.85 509.47 L293.88 508.89 L293.92 508.31 L293.95 507.73 L293.98 507.15 L294.02 506.58 L294.05 506.00 L294.09 505.42 L294.13 504.84 L294.17 504.26 L294.22 503.68 L294.30 503.10 L294.42 503.68 L294.49 504.26 L294.55 504.84 L294.60 505.42 L294.66 506.00 L294.71 506.58 L294.76 507.15 L294.81 507.73 L294.86 508.31 L294.91 508.89 L294.96 509.47 L295.01 510.05 L295.06 510.63 L295.11 511.21 L295.16 511.79 L295.21 512.37 L295.27 512.95 L295.33 513.52 L295.40 514.10 L295.48 514.68 L295.57 515.26 L295.69 515.84 L295.84 516.42 L296.10 517.00" fill="none" stroke="#dc9c9c" stroke-width="0.7" stroke-linejoin="round"/>
<text x="80.3" y="381.7" class="lb" text-anchor="start" textLength="28.3" lengthAdjust="spacingAndGlyphs">Creatinine</text>
<text x="89.8" y="509.0" class="lbb" text-anchor="start" textLength="35.8" lengthAdjust="spacingAndGlyphs">Creatinine-d<tspan dy="1.5" font-size="4.2">3</tspan></text>
<text x="101.5" y="515.4" class="lbs" text-anchor="start" textLength="8.9" lengthAdjust="spacingAndGlyphs">(IS)</text>
<line x1="76.8" y1="514.9" x2="88.2" y2="507.5" stroke="#222" stroke-width="0.9"/>
<text x="170" y="423.4" class="lb" text-anchor="start" textLength="29.5" lengthAdjust="spacingAndGlyphs">3,4-DHPPA</text>
<text x="163" y="498.8" class="lb" text-anchor="start" textLength="8.1" lengthAdjust="spacingAndGlyphs">HA</text>
<text x="184.8" y="460.1" class="lb" text-anchor="start" textLength="20.9" lengthAdjust="spacingAndGlyphs">4-HPAA</text>
<line x1="186.4" y1="463.6" x2="182.3" y2="486.8" stroke="#222" stroke-width="0.9"/>
<text x="190.9" y="482.5" class="lb" text-anchor="start" textLength="17.1" lengthAdjust="spacingAndGlyphs">4-HBA</text>
<text x="265.6" y="470.7" class="lb" text-anchor="start" textLength="20.6" lengthAdjust="spacingAndGlyphs">3-HPPA</text>
<text x="286.4" y="480.3" class="lb" text-anchor="start" textLength="9.1" lengthAdjust="spacingAndGlyphs">IAA</text>
<line x1="286.9" y1="482" x2="283.4" y2="493.4" stroke="#222" stroke-width="0.9"/>
<text x="288" y="496.3" class="lb" text-anchor="start" textLength="8.0" lengthAdjust="spacingAndGlyphs">BA</text>
<text x="249.1" y="496.8" class="lb" text-anchor="start" textLength="11.5" lengthAdjust="spacingAndGlyphs">PAA</text>
<line x1="262.2" y1="495" x2="283.4" y2="511" stroke="#222" stroke-width="0.9"/>
<text x="297.1" y="510.1" class="lb" text-anchor="start" textLength="11.0" lengthAdjust="spacingAndGlyphs">PPA</text>
<text x="125.7" y="542.3" class="ax" textLength="103" lengthAdjust="spacingAndGlyphs">Retention time (min)</text>
<text transform="translate(20.1 306) rotate(-90)" class="ax" textLength="106.5" lengthAdjust="spacingAndGlyphs">Relative intensity (%)</text>
</svg>
</body></html>
